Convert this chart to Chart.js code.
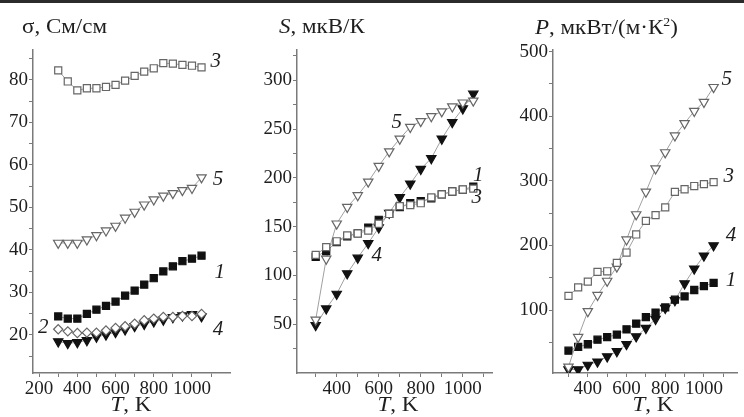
<!DOCTYPE html>
<html>
<head>
<meta charset="utf-8">
<script src="https://cdn.jsdelivr.net/npm/chart.js@4"></script>
<style>
  html, body { margin: 0; padding: 0; background: #fff; }
  #wrap { position: relative; width: 744px; height: 417px; overflow: hidden; }
  #topbar { position: absolute; left: 0; top: 0; width: 744px; height: 3px; background: #2b2b2b; }
  canvas { position: absolute; top: 0; }
</style>
</head>
<body>
<div id="wrap">
  <canvas id="sigma-chart" width="240" height="417" style="left:0px"></canvas>
  <canvas id="seebeck-chart" width="255" height="417" style="left:245px"></canvas>
  <canvas id="power-chart" width="244" height="417" style="left:500px"></canvas>
  <div id="topbar"></div>
</div>
<script>
// temperatures, K (same for every series)
const T = [300, 350, 400, 450, 500, 550, 600, 650, 700, 750, 800, 850, 900, 950, 1000, 1050];

// conductivity, S/cm
const sigma1 = [24.3, 23.8, 23.8, 24.9, 25.9, 26.8, 27.8, 29.2, 30.4, 31.8, 33.3, 34.9, 36.1, 37.3, 37.9, 38.6];
const sigma2 = [21.3, 20.8, 20.4, 20.5, 20.5, 21.0, 21.6, 22.0, 22.6, 23.4, 23.8, 24.2, 24.2, 24.4, 24.4, 24.9];
const sigma3 = [82.2, 79.6, 77.5, 78.0, 78.0, 78.3, 78.8, 79.8, 80.9, 81.9, 82.7, 83.9, 83.8, 83.5, 83.3, 82.9];
const sigma4 = [18.4, 18.0, 18.2, 18.7, 19.5, 20.0, 20.6, 21.2, 22.0, 22.5, 23.1, 23.5, 24.1, 24.5, 24.8, 24.3];
const sigma5 = [41.6, 41.6, 41.6, 42.4, 43.4, 44.5, 45.6, 47.5, 48.9, 50.6, 51.8, 52.7, 53.3, 54.0, 54.5, 57.0];

// Seebeck coefficient, uV/K
const seebeck1 = [119, 125, 134, 140, 143, 149, 157, 163, 170, 174, 176, 179, 183, 186, 188, 191];
const seebeck3 = [121, 129, 135, 141, 143, 146, 153, 163, 171, 172, 174, 180, 183, 186, 188, 189];
const seebeck4 = [49, 66, 81, 102, 118, 133, 149, 164, 180, 194, 209, 220, 240, 257, 271, 286];
const seebeck5 = [54.5, 117, 153, 170, 182, 196, 212, 227, 240, 252, 258, 263, 268, 273, 277, 279];

// power factor, uW/(m*K^2)
const power1 = [37, 43, 47, 54, 58, 62, 70, 79, 89, 96, 104, 116, 121, 131, 137, 142];
const power3 = [122, 135, 144, 159, 160, 173, 189, 217, 238, 247, 259, 283, 287, 292, 295, 298];
const power4 = [8, 8, 15, 20, 28, 36, 47, 59, 72, 86, 103, 115, 141, 164, 184, 200];
const power5 = [12, 58, 98, 123, 145, 167, 209, 248, 283, 319, 344, 370, 389, 408, 422, 445];

// tick marks and labelled ticks
const sigmaXTicks = [200, 300, 400, 500, 600, 700, 800, 900, 1000, 1100];
const sigmaXLabels = [200, 400, 600, 800, 1000];
const sigmaYTicks = [15, 20, 25, 30, 35, 40, 45, 50, 55, 60, 65, 70, 75, 80, 85];
const sigmaYLabels = [20, 30, 40, 50, 60, 70, 80];
const seebeckXTicks = [300, 400, 500, 600, 700, 800, 900, 1000, 1100];
const seebeckXLabels = [400, 600, 800, 1000];
const seebeckYTicks = [25, 50, 75, 100, 125, 150, 175, 200, 225, 250, 275, 300, 325];
const seebeckYLabels = [50, 100, 150, 200, 250, 300];
const powerXTicks = [300, 400, 500, 600, 700, 800, 900, 1000, 1100];
const powerXLabels = [400, 600, 800, 1000];
const powerYTicks = [50, 100, 150, 200, 250, 300, 350, 400, 450, 500];
const powerYLabels = [100, 200, 300, 400, 500];

const FONT = '"Liberation Serif", "Times New Roman", serif';
const INK = '#1e1e1e';
const AXIS = '#7a7a7a';
const LINE = '#a0a0a0';
const STRETCH = 1.15; // the original lettering is a little wider than Times

// marker styles by sample number
const markers = {
    1: { pointStyle: 'rect', pointRadius: 5, pointRotation: 0, pointBackgroundColor: '#111', pointBorderColor: '#111' },
    2: { pointStyle: 'rectRot', pointRadius: 4.6, pointRotation: 0, pointBackgroundColor: '#fff', pointBorderColor: '#666' },
    3: { pointStyle: 'rect', pointRadius: 5, pointRotation: 0, pointBackgroundColor: '#fff', pointBorderColor: '#666' },
    4: { pointStyle: 'triangle', pointRadius: 5.4, pointRotation: 180, pointBackgroundColor: '#111', pointBorderColor: '#111' },
    5: { pointStyle: 'triangle', pointRadius: 5.4, pointRotation: 180, pointBackgroundColor: '#fff', pointBorderColor: '#666' }
};

function series(num, values) {
    return Object.assign({
        label: String(num),
        data: T.map((t, i) => ({ x: t, y: values[i] })),
        borderColor: LINE,
        borderWidth: 1,
        pointBorderWidth: 1.2,
        showLine: true,
        tension: 0
    }, markers[num]);
}

function setFont(ctx, size, italic) {
    ctx.font = (italic ? 'italic ' : '') + size + 'px ' + FONT;
}

// writes pieces of text (upright / italic / superscript) one after another, stretched
function drawParts(ctx, parts, x, y, align) {
    let total = 0;
    parts.forEach(p => {
        setFont(ctx, p.sup ? 12 : 20, p.italic);
        total += ctx.measureText(p.text).width;
    });
    ctx.save();
    ctx.translate(align === 'center' ? x - total * STRETCH / 2 : x, y);
    ctx.scale(STRETCH, 1);
    let cx = 0;
    parts.forEach(p => {
        setFont(ctx, p.sup ? 12 : 20, p.italic);
        ctx.fillText(p.text, cx, p.sup ? -8 : 0);
        cx += ctx.measureText(p.text).width;
    });
    ctx.restore();
}

// draws the axis title, x title and the sample numbers next to the curves
const notesPlugin = {
    id: 'notes',
    afterDraw(chart, args, opts) {
        const ctx = chart.ctx;
        const xs = chart.scales.x, ys = chart.scales.y;
        ctx.save();
        ctx.fillStyle = INK;
        ctx.textBaseline = 'alphabetic';
        ctx.textAlign = 'left';

        drawParts(ctx, opts.title.parts, opts.title.x, opts.title.y, 'left');
        drawParts(ctx, [{ text: 'T', italic: true }, { text: ', K' }], opts.xTitleX, 411, 'center');

        // sample numbers
        setFont(ctx, 21, true);
        ctx.textAlign = 'center';
        ctx.textBaseline = 'middle';
        opts.labels.forEach(l => {
            ctx.fillText(l.text, xs.getPixelForValue(l.x), ys.getPixelForValue(l.y));
        });
        ctx.restore();
    }
};

function makePanel(canvasId, cfg) {
    const ctx = document.getElementById(canvasId).getContext('2d');
    return new Chart(ctx, {
        type: 'scatter',
        data: { datasets: cfg.datasets },
        options: {
            responsive: false,
            animation: false,
            devicePixelRatio: 1,
            layout: { padding: { top: 50, right: cfg.rightPad, left: 0, bottom: 0 } },
            scales: {
                x: {
                    type: 'linear',
                    min: cfg.xMin,
                    max: cfg.xMax,
                    afterFit: s => { s.height = 44; },
                    afterBuildTicks: s => { s.ticks = cfg.xTicks.map(v => ({ value: v })); },
                    border: { color: AXIS, width: 1.5 },
                    grid: { drawOnChartArea: false, drawTicks: true, tickLength: 4, color: AXIS, tickWidth: 1 },
                    ticks: {
                        autoSkip: false,
                        maxRotation: 0,
                        padding: 1,
                        color: INK,
                        font: { family: FONT, size: 19 },
                        callback: v => cfg.xLabels.includes(v) ? String(v) : ''
                    }
                },
                y: {
                    type: 'linear',
                    min: cfg.yMin,
                    max: cfg.yMax,
                    afterFit: s => { s.width = cfg.yWidth; },
                    afterBuildTicks: s => { s.ticks = cfg.yTicks.map(v => ({ value: v })); },
                    border: { color: AXIS, width: 1.5 },
                    grid: { drawOnChartArea: false, drawTicks: true, tickLength: 4, color: AXIS, tickWidth: 1 },
                    ticks: {
                        autoSkip: false,
                        padding: 1,
                        color: INK,
                        font: { family: FONT, size: 19 },
                        callback: v => cfg.yLabels.includes(v) ? String(v) : ''
                    }
                }
            },
            plugins: {
                legend: { display: false },
                tooltip: { enabled: false },
                notes: { title: cfg.title, xTitleX: cfg.xTitleX, labels: cfg.labels }
            }
        },
        plugins: [notesPlugin]
    });
}

makePanel('sigma-chart', {
    datasets: [series(3, sigma3), series(5, sigma5), series(2, sigma2), series(4, sigma4), series(1, sigma1)],
    xMin: 168, xMax: 1199, yMin: 11, yMax: 87,
    xTicks: sigmaXTicks, xLabels: sigmaXLabels, yTicks: sigmaYTicks, yLabels: sigmaYLabels,
    yWidth: 33, rightPad: 10, xTitleX: 131,
    title: { x: 22, y: 33, parts: [{ text: 'σ, См/см' }] },
    labels: [
        { text: '3', x: 1125, y: 84.2 },
        { text: '5', x: 1136, y: 56.5 },
        { text: '1', x: 1146, y: 34.6 },
        { text: '2', x: 222, y: 21.6 },
        { text: '4', x: 1136, y: 21.2 }
    ]
});

makePanel('seebeck-chart', {
    datasets: [series(3, seebeck3), series(1, seebeck1), series(5, seebeck5), series(4, seebeck4)],
    xMin: 211, xMax: 1139, yMin: 0, yMax: 331,
    xTicks: seebeckXTicks, xLabels: seebeckXLabels, yTicks: seebeckYTicks, yLabels: seebeckYLabels,
    yWidth: 52, rightPad: 8, xTitleX: 153,
    title: { x: 34, y: 33, parts: [{ text: 'S', italic: true }, { text: ', мкВ/К' }] },
    labels: [
        { text: '5', x: 686, y: 257 },
        { text: '1', x: 1074, y: 202 },
        { text: '3', x: 1067, y: 180 },
        { text: '4', x: 590, y: 120 }
    ]
});

makePanel('power-chart', {
    datasets: [series(3, power3), series(5, power5), series(1, power1), series(4, power4)],
    xMin: 220, xMax: 1173, yMin: 2.5, yMax: 502.6,
    xTicks: powerXTicks, xLabels: powerXLabels, yTicks: powerYTicks, yLabels: powerYLabels,
    yWidth: 53, rightPad: 0, xTitleX: 153,
    title: { x: 35, y: 34, parts: [{ text: 'P', italic: true }, { text: ', мкВт/(м·К' }, { text: '2', sup: true }, { text: ')' }] },
    labels: [
        { text: '5', x: 1118, y: 457 },
        { text: '3', x: 1128, y: 306 },
        { text: '4', x: 1140, y: 216 },
        { text: '1', x: 1140, y: 146 }
    ]
});
</script>
</body>
</html>
